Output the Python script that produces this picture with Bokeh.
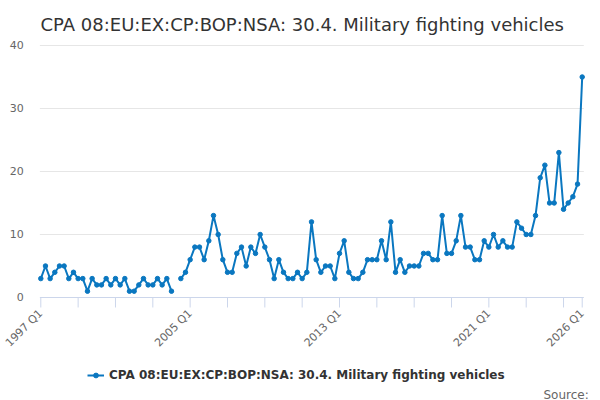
from bokeh.plotting import figure
from bokeh.models import ColumnDataSource, Range1d, FixedTicker, Legend, LegendItem, Label
from bokeh.embed import file_html
from bokeh.resources import INLINE
from math import pi, nan

# ---- data ----
quarters = [f"{y} Q{q}" for y in range(1997, 2027) for q in range(1, 5)][:117]
values = [
    3, 5, 3, 4, 5, 5, 3, 4, 3, 3, 1, 3, 2, 2, 3, 2, 3, 2, 3, 1, 1, 2, 3, 2, 2, 3, 2, 3, 1,
    None,
    3, 4, 6, 8, 8, 6, 9, 13, 10, 6, 4,
    4, 7, 8, 5, 8, 7, 10, 8, 6, 3, 6, 4, 3, 3, 4, 3, 4, 12, 6, 4, 5,
    5, 3, 7, 9, 4, 3, 3, 4, 6, 6, 6, 9, 6, 12, 4, 6, 4, 5, 5, 5,
    7, 7, 6, 6, 13, 7, 7, 9, 13, 8, 8, 6, 6, 9, 8, 10, 8, 9, 8, 8, 12, 11, 10, 10, 13,
    19, 21, 15, 15, 23, 14, 15, 16, 18, 35,
]
x_tick_labels = ["1997 Q1", "2005 Q1", "2013 Q1", "2021 Q1", "2026 Q1"]
y_ticks = [0, 10, 20, 30, 40]
series_name = "CPA 08:EU:EX:CP:BOP:NSA: 30.4. Military fighting vehicles"
title_text = "CPA 08:EU:EX:CP:BOP:NSA: 30.4. Military fighting vehicles"
source_text = "Source:"

idx = list(range(len(quarters)))
yvals = [nan if v is None else v for v in values]
src = ColumnDataSource(dict(x=idx, y=yvals, q=quarters))

tick_pos = list(range(0, len(quarters) - 1, 8)) + [len(quarters) - 1]
overrides = {}
for t in tick_pos:
    overrides[t] = quarters[t] if quarters[t] in x_tick_labels else ""

FONT = "DejaVu Sans"
BLUE = "#0a77c0"
AXIS_C = "#ccd6eb"

# the frame covers the whole figure; the visible plot area runs
# from x=-0.2 to 116.35 and y=0..40 (0 at 297 px, 40 at 45 px)
X0, X1 = -0.2, 116.35
TICK_LEN = 10 / 6.3   # 10 px expressed in y units

p = figure(width=600, height=400, output_backend="svg", toolbar_location=None,
           x_range=Range1d(-8.635, 119.92), y_range=Range1d(-16.35, 47.14),
           min_border_left=0, min_border_right=0, min_border_top=0, min_border_bottom=0)
p.outline_line_color = None
p.background_fill_color = "white"
p.xgrid.visible = False
p.ygrid.visible = False

# title
p.add_layout(Label(x=40, y=376, x_units="screen", y_units="screen",
                   text=title_text, text_font=FONT, text_font_size="18px",
                   text_color="#333333", text_baseline="alphabetic"))

# horizontal grid lines limited to the plot area (from the y tick list)
grid_y = y_ticks[1:]
p.segment(x0=[X0] * len(grid_y), x1=[X1] * len(grid_y), y0=grid_y, y1=grid_y,
          line_color="#e6e6e6", line_width=1)
# x axis line and tick marks (from the tick list)
p.segment(x0=[X0], x1=[X1], y0=[0], y1=[0], line_color=AXIS_C, line_width=1)
p.segment(x0=tick_pos, x1=tick_pos, y0=[0] * len(tick_pos), y1=[-TICK_LEN] * len(tick_pos),
          line_color=AXIS_C, line_width=1)

line = p.line("x", "y", source=src, line_color=BLUE, line_width=2)
pts = p.scatter("x", "y", source=src, size=4.5, fill_color=BLUE, line_color=BLUE)

# x axis labels, pinned to value 0
xa = p.xaxis[0]
xa.fixed_location = 0
xa.ticker = FixedTicker(ticks=tick_pos, minor_ticks=[])
xa.major_label_overrides = overrides
xa.major_label_orientation = pi / 4
xa.axis_line_color = None
xa.major_tick_line_color = None
xa.major_tick_out = 10
xa.major_tick_in = 0
xa.minor_tick_line_color = None
xa.major_label_text_font = FONT
xa.major_label_text_font_size = "11px"
xa.major_label_text_color = "#666666"
xa.major_label_standoff = 4

# y axis labels, pinned to the plot-area left edge
ya = p.yaxis[0]
ya.fixed_location = X0
ya.ticker = FixedTicker(ticks=y_ticks, minor_ticks=[])
ya.axis_line_color = None
ya.major_tick_line_color = None
ya.minor_tick_line_color = None
ya.major_tick_out = 0
ya.major_tick_in = 0
ya.major_label_text_font = FONT
ya.major_label_text_font_size = "11px"
ya.major_label_text_color = "#666666"
ya.major_label_standoff = 16

legend = Legend(items=[LegendItem(label=series_name, renderers=[line, pts])],
                location=(87, 18), orientation="horizontal",
                label_text_font=FONT, label_text_font_size="12px",
                label_text_font_style="bold", label_text_color="#333333",
                border_line_color=None, background_fill_alpha=0,
                glyph_width=17, glyph_height=12, label_standoff=5,
                padding=2, margin=0)
p.add_layout(legend, "center")

p.add_layout(Label(x=543, y=6, x_units="screen", y_units="screen",
                   text=source_text, text_font=FONT, text_font_size="12px",
                   text_color="#666666", text_baseline="alphabetic"))

open("out.html", "w").write(file_html(p, INLINE))
